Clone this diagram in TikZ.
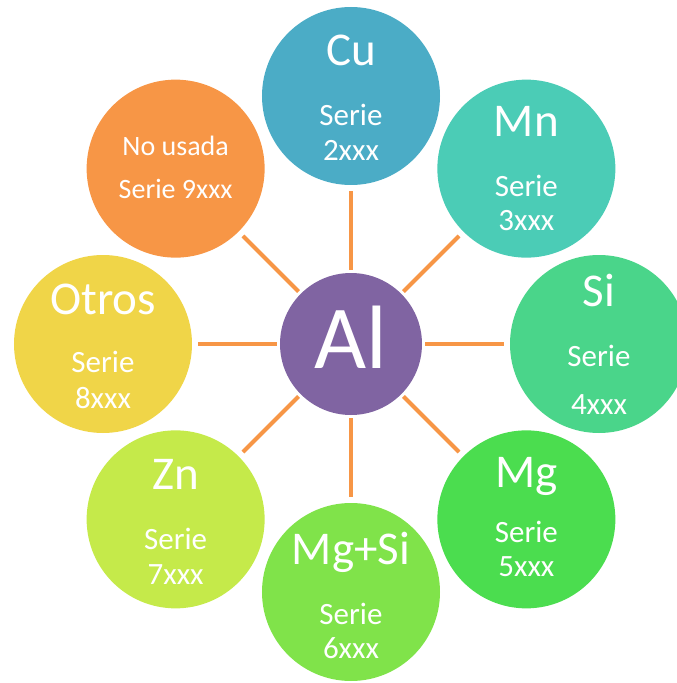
\documentclass[tikz,border=0pt]{standalone}
\usepackage{fontspec}
\setmainfont{Carlito}
\usepackage{tikz}
\usepackage{xcolor}
\definecolor{al-purple}{HTML}{8064A2}
\definecolor{spoke-orange}{HTML}{F79646}
\definecolor{cu-blue}{HTML}{4BACC6}
\definecolor{mn-teal}{HTML}{4BCCB6}
\definecolor{si-green}{HTML}{4AD58A}
\definecolor{mg-green}{HTML}{4BDD4F}
\definecolor{mgsi-green}{HTML}{80E34A}
\definecolor{zn-lime}{HTML}{C5EA4A}
\definecolor{otros-yellow}{HTML}{F0D548}
\definecolor{nousada-orange}{HTML}{F79646}
\tikzset{
    center-disc/.style = {circle, fill=al-purple, minimum size=142pt, inner sep=0pt},
    series-disc/.style = {circle, minimum size=178pt, inner sep=0pt},
    spoke/.style = {draw=spoke-orange, line width=4pt, shorten <=3pt, shorten >=6pt},
    element-text/.style = {text=white, font=\fontsize{47}{47}\selectfont, inner sep=0pt, anchor=base},
    serie-text/.style = {text=white, font=\fontsize{31}{31}\selectfont, inner sep=0pt, anchor=base},
    small-text/.style = {text=white, font=\fontsize{28}{28}\selectfont, inner sep=0pt, anchor=base},
}

\begin{document}
\begin{tikzpicture}[x=1pt, y=1pt]
\useasboundingbox (-351,-339) rectangle (326,344);

% discs
\node [center-disc] (al) at (0,0) {};
\node [series-disc, fill=cu-blue] (cu) at (90:248) {};
\node [series-disc, fill=mn-teal] (mn) at (45:248) {};
\node [series-disc, fill=si-green] (si) at (0:248) {};
\node [series-disc, fill=mg-green] (mg) at (-45:248) {};
\node [series-disc, fill=mgsi-green] (mgsi) at (-90:248) {};
\node [series-disc, fill=zn-lime] (zn) at (-135:248) {};
\node [series-disc, fill=otros-yellow] (otros) at (180:248) {};
\node [series-disc, fill=nousada-orange] (nousada) at (135:248) {};

% spokes
\draw [spoke] (al) -- (cu);
\draw [spoke] (al) -- (mn);
\draw [spoke] (al) -- (si);
\draw [spoke] (al) -- (mg);
\draw [spoke] (al) -- (mgsi);
\draw [spoke] (al) -- (zn);
\draw [spoke] (al) -- (otros);
\draw [spoke] (al) -- (nousada);

% texts
\node [text=white, font=\fontsize{90}{90}\selectfont, inner sep=0pt, anchor=base] (al-text) at ([yshift=-24pt]al.center) {Al};

\node [element-text] (cu-name) at ([yshift=30pt]cu.center) {Cu};
\node [serie-text] (cu-serie) at ([yshift=-30pt]cu.center) {Serie};
\node [serie-text] (cu-num) at ([yshift=-65pt]cu.center) {2xxx};

\node [element-text] (mn-name) at ([yshift=32pt]mn.center) {Mn};
\node [serie-text] (mn-serie) at ([yshift=-28pt]mn.center) {Serie};
\node [serie-text] (mn-num) at ([yshift=-62pt]mn.center) {3xxx};

\node [element-text] (si-name) at ([yshift=38pt]si.center) {Si};
\node [serie-text] (si-serie) at ([yshift=-22pt]si.center) {Serie};
\node [serie-text] (si-num) at ([yshift=-70pt]si.center) {4xxx};

\node [element-text] (mg-name) at ([yshift=32pt]mg.center) {Mg};
\node [serie-text] (mg-serie) at ([yshift=-23pt]mg.center) {Serie};
\node [serie-text] (mg-num) at ([yshift=-57pt]mg.center) {5xxx};

\node [element-text] (mgsi-name) at ([yshift=28pt]mgsi.center) {Mg+Si};
\node [serie-text] (mgsi-serie) at ([yshift=-32pt]mgsi.center) {Serie};
\node [serie-text] (mgsi-num) at ([yshift=-66pt]mgsi.center) {6xxx};

\node [element-text] (zn-name) at ([yshift=30pt]zn.center) {Zn};
\node [serie-text] (zn-serie) at ([yshift=-30pt]zn.center) {Serie};
\node [serie-text] (zn-num) at ([yshift=-65pt]zn.center) {7xxx};

\node [element-text] (otros-name) at ([yshift=30pt]otros.center) {Otros};
\node [serie-text] (otros-serie) at ([yshift=-28pt]otros.center) {Serie};
\node [serie-text] (otros-num) at ([yshift=-64pt]otros.center) {8xxx};

\node [small-text] (nousada-name) at ([yshift=13pt]nousada.center) {No usada};
\node [small-text] (nousada-serie) at ([yshift=-30pt]nousada.center) {Serie 9xxx};
\end{tikzpicture}
\end{document}
